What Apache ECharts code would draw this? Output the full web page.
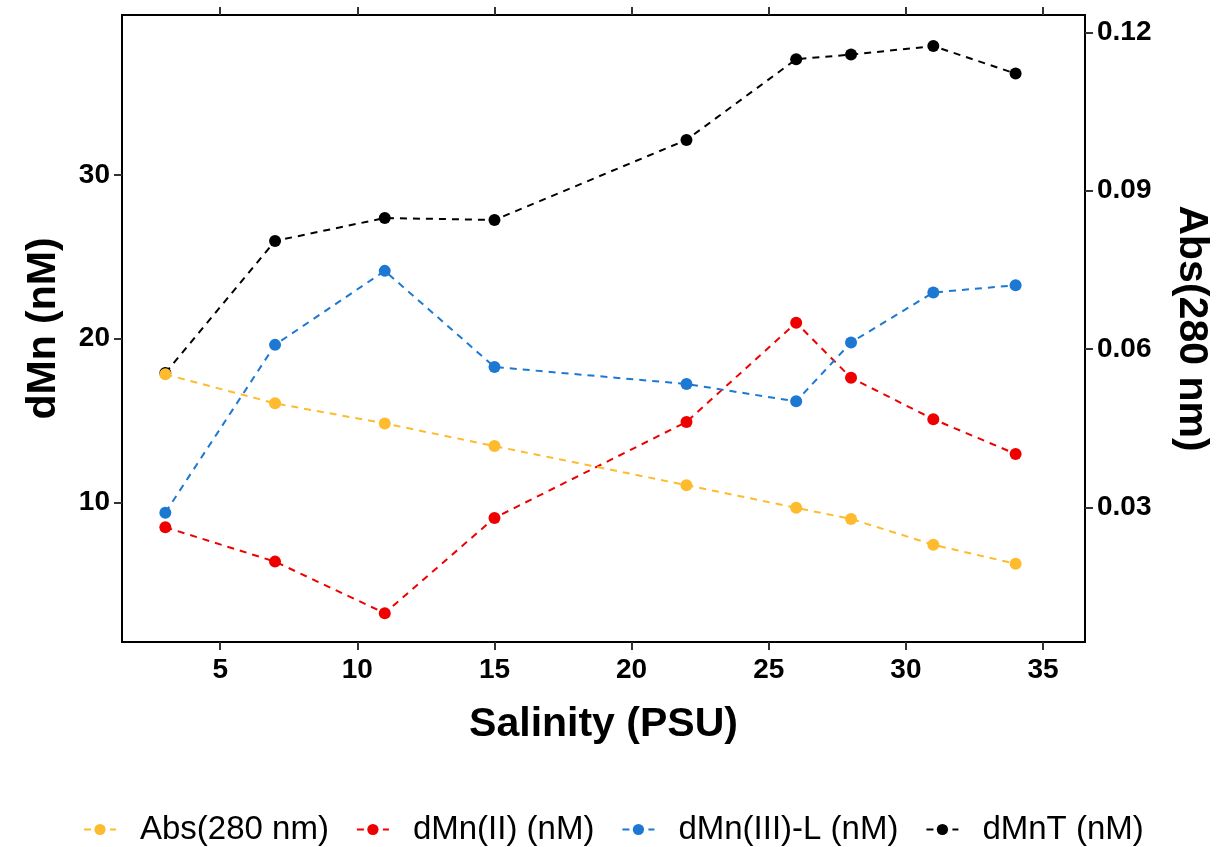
<!DOCTYPE html>
<html>
<head>
<meta charset="utf-8">
<script src="https://cdn.jsdelivr.net/npm/echarts@6/dist/echarts.min.js"></script>
<style>
html,body{margin:0;padding:0;background:#fff;}
#chart{width:1217px;height:847px;}
</style>
</head>
<body>
<div id="chart"></div>
<script>
var salinity = [3, 7, 11, 15, 22, 26, 28, 31, 34];
var absorbance = [0.0552, 0.0497, 0.0459, 0.0416, 0.0342, 0.0299, 0.0278, 0.0229, 0.0193];
var dMnII = [8.48, 6.38, 3.23, 9.05, 14.91, 20.97, 17.61, 15.08, 12.96];
var dMnIIIL = [9.37, 19.62, 24.14, 18.27, 17.23, 16.17, 19.77, 22.82, 23.26];
var dMnT = [17.9, 25.97, 27.37, 27.25, 32.14, 37.07, 37.35, 37.87, 36.19];
var xTicks = [5, 10, 15, 20, 25, 30, 35];
var leftTicks = [10, 20, 30];
var rightTicks = [0.03, 0.06, 0.09, 0.12];

function pairs(ys) { return salinity.map(function (x, i) { return [x, ys[i]]; }); }

var FONT = '"Liberation Sans", Arial, sans-serif';
var chart = echarts.init(document.getElementById('chart'));

function mkSeries(name, data, color, yIdx, z) {
  return {
    name: name, type: 'line', data: pairs(data), yAxisIndex: yIdx, xAxisIndex: 0,
    symbol: 'circle', symbolSize: 12, z: z,
    itemStyle: { color: color },
    lineStyle: { color: color, width: 2, type: [7, 6] },
    emphasis: { disabled: true }
  };
}

var tickStyle = { show: true, length: 8, inside: false, lineStyle: { color: '#333', width: 2 } };
var labelBase = { color: '#000', fontFamily: FONT, fontWeight: 'bold', fontSize: 28 };
var titleBase = { color: '#000', fontFamily: FONT, fontWeight: 'bold', fontSize: 41 };

chart.setOption({
  animation: false,
  backgroundColor: '#fff',
  grid: { left: 122, right: 132, top: 15, bottom: 205, outerBoundsMode: 'none', containLabel: false,
          show: true, borderColor: '#000', borderWidth: 2, backgroundColor: 'transparent' },
  legend: {
    top: 808, left: 78, itemWidth: 32, itemHeight: 14, itemGap: 27,
    textStyle: { color: '#000', fontFamily: FONT, fontSize: 33, padding: [0, 0, 0, 19] },
    data: ['Abs(280 nm)', 'dMn(II) (nM)', 'dMn(III)-L (nM)', 'dMnT (nM)']
  },
  xAxis: [{
    type: 'value', min: 1.42, max: 36.53, position: 'bottom',
    name: 'Salinity (PSU)', nameLocation: 'middle', nameGap: 62,
    nameTextStyle: titleBase,
    axisLine: { show: false }, splitLine: { show: false },
    axisTick: Object.assign({ customValues: xTicks }, tickStyle),
    axisLabel: Object.assign({ customValues: xTicks, margin: 14 }, labelBase)
  }, {
    type: 'value', min: 1.42, max: 36.53, position: 'top',
    axisLine: { show: false }, splitLine: { show: false },
    axisTick: Object.assign({ customValues: xTicks }, tickStyle),
    axisLabel: { show: false }
  }],
  yAxis: [{
    type: 'value', min: 1.47, max: 39.77, position: 'left',
    name: 'dMn (nM)', nameLocation: 'middle', nameGap: 58, nameRotate: 90,
    nameTextStyle: titleBase,
    axisLine: { show: false }, splitLine: { show: false },
    axisTick: Object.assign({ customValues: leftTicks }, tickStyle),
    axisLabel: Object.assign({ customValues: leftTicks, margin: 12 }, labelBase)
  }, {
    type: 'value', min: 0.00448, max: 0.12328, position: 'right',
    name: 'Abs(280 nm)', nameLocation: 'middle', nameGap: 86, nameRotate: -90,
    nameTextStyle: titleBase,
    axisLine: { show: false }, splitLine: { show: false },
    axisTick: Object.assign({ customValues: rightTicks }, tickStyle),
    axisLabel: Object.assign({ customValues: rightTicks, margin: 12, formatter: function (v) { return v.toFixed(2); } }, labelBase)
  }],
  series: [
    mkSeries('Abs(280 nm)', absorbance, '#FDBB2D', 1, 5),
    mkSeries('dMn(II) (nM)', dMnII, '#EE0000', 0, 3),
    mkSeries('dMn(III)-L (nM)', dMnIIIL, '#1C78D2', 0, 3),
    mkSeries('dMnT (nM)', dMnT, '#000000', 0, 2)
  ]
});
</script>
</body>
</html>
